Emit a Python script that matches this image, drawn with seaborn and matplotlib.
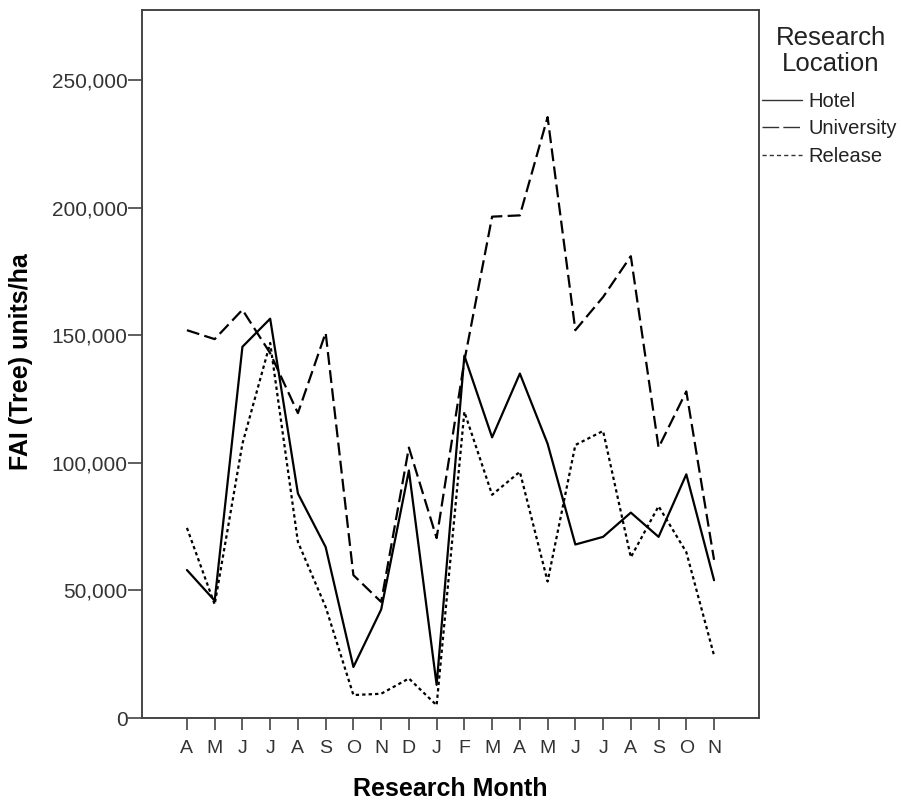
import matplotlib
matplotlib.use("Agg")
import matplotlib.pyplot as plt
import seaborn as sns
import pandas as pd
from matplotlib.ticker import FuncFormatter

# Monthly FAI (Tree) units per hectare, April through the following November
months = ["A", "M", "J", "J", "A", "S", "O", "N", "D", "J",
          "F", "M", "A", "M", "J", "J", "A", "S", "O", "N"]
hotel = [58000, 46000, 145500, 156500, 88000, 67000, 20000, 42500, 97000, 13000,
         142000, 110000, 135000, 107500, 68000, 71000, 80500, 71000, 95500, 54000]
university = [152000, 148500, 160000, 143000, 119500, 151000, 56000, 45500, 106000, 70500,
              140000, 196500, 197000, 235500, 152000, 165000, 181000, 106000, 128000, 62000]
release = [74500, 44500, 107500, 147000, 69000, 43500, 9000, 9500, 15500, 5000,
           120000, 87500, 96500, 53500, 107000, 112500, 63000, 83000, 65000, 24500]
locations = ["Hotel", "University", "Release"]
y_ticks = [0, 50000, 100000, 150000, 200000, 250000]

frames = []
for name, vals in zip(locations, [hotel, university, release]):
    frames.append(pd.DataFrame({"idx": range(len(months)), "value": vals, "Location": name}))
df = pd.concat(frames, ignore_index=True)

sns.set_theme(style="white")
plt.rcParams["font.family"] = ["Liberation Sans", "DejaVu Sans"]

W, H = 904, 805
fig = plt.figure(figsize=(W / 100, H / 100), dpi=100)
ax = fig.add_axes([142 / W, 1 - 718 / H, (759 - 142) / W, (718 - 10) / H])

line_dashes = {"Hotel": "", "University": (5.8, 2.4), "Release": (1.5, 1.4)}
sns.lineplot(data=df, x="idx", y="value", style="Location", style_order=locations,
             dashes=line_dashes, color="black", linewidth=1.6, ax=ax, legend=True)

ax.set_xlim(-1.62, len(months) - 1 + 1.62)
ax.set_ylim(0, 277500)
ax.set_xticks(range(len(months)))
ax.set_xticklabels(months)
ax.set_yticks(y_ticks)
ax.yaxis.set_major_formatter(FuncFormatter(lambda v, p: f"{int(v):,}"))

for s in ax.spines.values():
    s.set_color("#444444")
    s.set_linewidth(1.4)

ax.tick_params(axis="x", direction="out", length=8.6, width=1.2, color="#444444",
               labelcolor="#333333", labelsize=14, pad=7, bottom=True)
ax.tick_params(axis="y", direction="out", length=10, width=1.2, color="#444444",
               labelcolor="#333333", labelsize=15, pad=0.5, left=True)

ax.set_xlabel("Research Month", fontsize=18, fontweight="bold", color="black", va="top")
ax.set_ylabel("FAI (Tree) units/ha", fontsize=18, fontweight="bold", color="black")
ax.xaxis.set_label_coords(0.5, (718 - 777) / 708)
ax.yaxis.set_label_coords((33 - 142) / 617, 0.503)

# legend title drawn separately so its gap to the entries can be set freely
fig.text(831 / W, 1 - 26 / H, "Research\nLocation", ha="center", va="top",
         fontsize=18.5, color="#222222", linespacing=1.1)

handles, labels = ax.get_legend_handles_labels()
leg = ax.legend(handles, labels, frameon=False, loc="upper left",
                bbox_to_anchor=((762 - 142) / 617, (718 - 92) / 708),
                fontsize=14.5, handlelength=2.0, handletextpad=0.3,
                labelspacing=0.42, borderaxespad=0.0, borderpad=0.0)
legend_dashes = {"Hotel": None, "University": (12, 3), "Release": (3, 2.2)}
for line, text in zip(leg.get_lines(), leg.get_texts()):
    line.set_linewidth(1.0)
    line.set_color("#333333")
    d = legend_dashes[text.get_text()]
    if d is not None:
        line.set_dashes(d)
    text.set_color("#222222")

fig.savefig("out.png", dpi=100)
